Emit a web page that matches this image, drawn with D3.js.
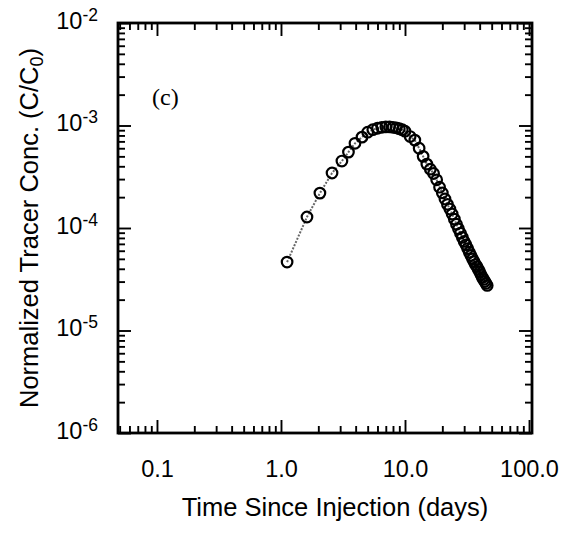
<!DOCTYPE html>
<html>
<head>
<meta charset="utf-8">
<script src="https://cdn.jsdelivr.net/npm/d3@7"></script>
<style>
  body { margin: 0; background: #fff; }
  svg { display: block; }
</style>
</head>
<body>
<div id="chart"></div>
<script>
// days since injection
const timeDays = [
  1.12, 1.62, 2.06, 2.58, 3.10, 3.50, 3.95, 4.50, 5.00, 5.50,
  6.00, 6.50, 7.00, 7.50, 8.00, 8.50, 9.00, 9.50, 10.0, 11.0,
  12.0, 13.0, 14.0, 15.0, 16.0, 17.0, 18.0, 19.0, 20.0, 21.0,
  22.0, 23.0, 24.0, 25.0, 26.0, 27.0, 28.0, 29.0, 30.0, 31.0,
  32.0, 33.0, 34.0, 35.0, 36.0, 37.0, 38.0, 39.0, 40.0, 41.0,
  42.0, 43.0, 44.0, 45.0, 46.0
];
// normalized concentration C/C0
const concNorm = [
  4.65e-5, 1.28e-4, 2.19e-4, 3.44e-4, 4.5e-4, 5.5e-4, 6.7e-4, 7.7e-4, 8.6e-4, 9.1e-4,
  9.4e-4, 9.6e-4, 9.7e-4, 9.7e-4, 9.6e-4, 9.5e-4, 9.3e-4, 9.1e-4, 8.8e-4, 7.8e-4,
  7.2e-4, 6.0e-4, 5.0e-4, 4.2e-4, 3.75e-4, 3.4e-4, 2.95e-4, 2.5e-4, 2.2e-4, 1.92e-4,
  1.7e-4, 1.53e-4, 1.37e-4, 1.22e-4, 1.09e-4, 9.8e-5, 8.9e-5, 8.1e-5, 7.4e-5, 6.85e-5,
  6.3e-5, 5.8e-5, 5.4e-5, 5.0e-5, 4.7e-5, 4.4e-5, 4.2e-5, 3.95e-5, 3.73e-5, 3.5e-5,
  3.3e-5, 3.15e-5, 3.0e-5, 2.88e-5, 2.75e-5
];

const xMajor = [0.1, 1, 10, 100];
const xMajorLabels = ["0.1", "1.0", "10.0", "100.0"];
const yMajor = [1e-6, 1e-5, 1e-4, 1e-3, 1e-2];

const data = timeDays.map((t, i) => ({t: t, c: concNorm[i]}));

const W = 561, H = 534;
const margin = {top: 23, right: 29, bottom: 101, left: 118};
const width = W - margin.left - margin.right;
const height = H - margin.top - margin.bottom;

const svg = d3.select("#chart").append("svg")
    .attr("width", W)
    .attr("height", H)
    .style("font-family", "'Liberation Sans', Arial, Helvetica, sans-serif");

const g = svg.append("g")
    .attr("transform", `translate(${margin.left}, ${margin.top})`);

const x = d3.scaleLog().domain([0.0485, 105.7]).range([0, width]);
const y = d3.scaleLog().domain([1e-6, 1e-2]).range([height, 0]);

// minor tick values (2..9 within each decade)
const xMinor = [];
[0.01, 0.1, 1, 10].forEach(dec => {
    for (let k = 2; k <= 9; k++) {
        const v = dec * k;
        if (v > x.domain()[0] && v < x.domain()[1]) xMinor.push(v);
    }
});
const yMinor = [];
[1e-6, 1e-5, 1e-4, 1e-3].forEach(dec => {
    for (let k = 2; k <= 9; k++) yMinor.push(dec * k);
});

const majorLen = 13, minorLen = 7;

function styleAxis(sel) {
    sel.select(".domain").remove();
    sel.selectAll(".tick line").attr("stroke", "#000").attr("stroke-width", 1.9);
}

// minor ticks on all four sides
g.append("g").attr("transform", `translate(0, ${height})`)
    .call(d3.axisBottom(x).tickValues(xMinor).tickSize(-minorLen).tickFormat(""))
    .call(styleAxis);
g.append("g")
    .call(d3.axisTop(x).tickValues(xMinor).tickSize(-minorLen).tickFormat(""))
    .call(styleAxis);
g.append("g")
    .call(d3.axisLeft(y).tickValues(yMinor).tickSize(-minorLen).tickFormat(""))
    .call(styleAxis);
g.append("g").attr("transform", `translate(${width}, 0)`)
    .call(d3.axisRight(y).tickValues(yMinor).tickSize(-minorLen).tickFormat(""))
    .call(styleAxis);

// major ticks
g.append("g").attr("transform", `translate(0, ${height})`)
    .call(d3.axisBottom(x).tickValues(xMajor).tickSize(-majorLen).tickPadding(27)
        .tickFormat((d, i) => xMajorLabels[i]))
    .call(styleAxis)
    .call(a => a.selectAll(".tick text")
        .attr("fill", "#000")
        .attr("font-size", 23.5)
        .attr("font-family", "'Liberation Sans', Arial, Helvetica, sans-serif"));
g.append("g")
    .call(d3.axisTop(x).tickValues(xMajor).tickSize(-majorLen).tickFormat(""))
    .call(styleAxis);
g.append("g")
    .call(d3.axisLeft(y).tickValues(yMajor).tickSize(-majorLen).tickPadding(20).tickFormat(""))
    .call(styleAxis)
    .call(a => a.selectAll(".tick text")
        .attr("fill", "#000")
        .attr("font-size", 23.5)
        .attr("font-family", "'Liberation Sans', Arial, Helvetica, sans-serif")
        .attr("dy", "0.22em")
        .each(function(d) {
            const t = d3.select(this);
            t.append("tspan").text("10");
            t.append("tspan").attr("dy", -8).attr("font-size", 17.5)
                .text("-" + Math.round(-Math.log10(d)));
        }));
g.append("g").attr("transform", `translate(${width}, 0)`)
    .call(d3.axisRight(y).tickValues(yMajor).tickSize(-majorLen).tickFormat(""))
    .call(styleAxis);

// frame
g.append("rect")
    .attr("width", width)
    .attr("height", height)
    .attr("fill", "none")
    .attr("stroke", "#000")
    .attr("stroke-width", 2.8);

// connecting line
const line = d3.line()
    .x(d => x(d.t))
    .y(d => y(d.c));

g.append("path")
    .datum(data)
    .attr("d", line)
    .attr("fill", "none")
    .attr("stroke", "#666")
    .attr("stroke-width", 2)
    .attr("stroke-dasharray", "2,1.5");

// markers
g.selectAll("circle.pt")
    .data(data)
    .join("circle")
    .attr("class", "pt")
    .attr("cx", d => x(d.t))
    .attr("cy", d => y(d.c))
    .attr("r", 5.3)
    .attr("fill", "none")
    .attr("stroke", "#000")
    .attr("stroke-width", 2.2);

// panel label
g.append("text")
    .attr("x", 152 - margin.left)
    .attr("y", 105 - margin.top)
    .attr("font-family", "'Liberation Serif', 'Times New Roman', serif")
    .attr("font-size", 24)
    .text("(c)");

// axis titles
svg.append("text")
    .attr("x", 335)
    .attr("y", 516)
    .attr("text-anchor", "middle")
    .attr("font-size", 25.5)
    .text("Time Since Injection (days)");

const yTitle = svg.append("text")
    .attr("transform", "translate(38, 228) rotate(-90)")
    .attr("text-anchor", "middle")
    .attr("font-size", 25.5);
yTitle.append("tspan").text("Normalized Tracer Conc. (C/C");
yTitle.append("tspan").attr("dy", 5).attr("font-size", 18).text("0");
yTitle.append("tspan").attr("dy", -5).text(")");
</script>
</body>
</html>
